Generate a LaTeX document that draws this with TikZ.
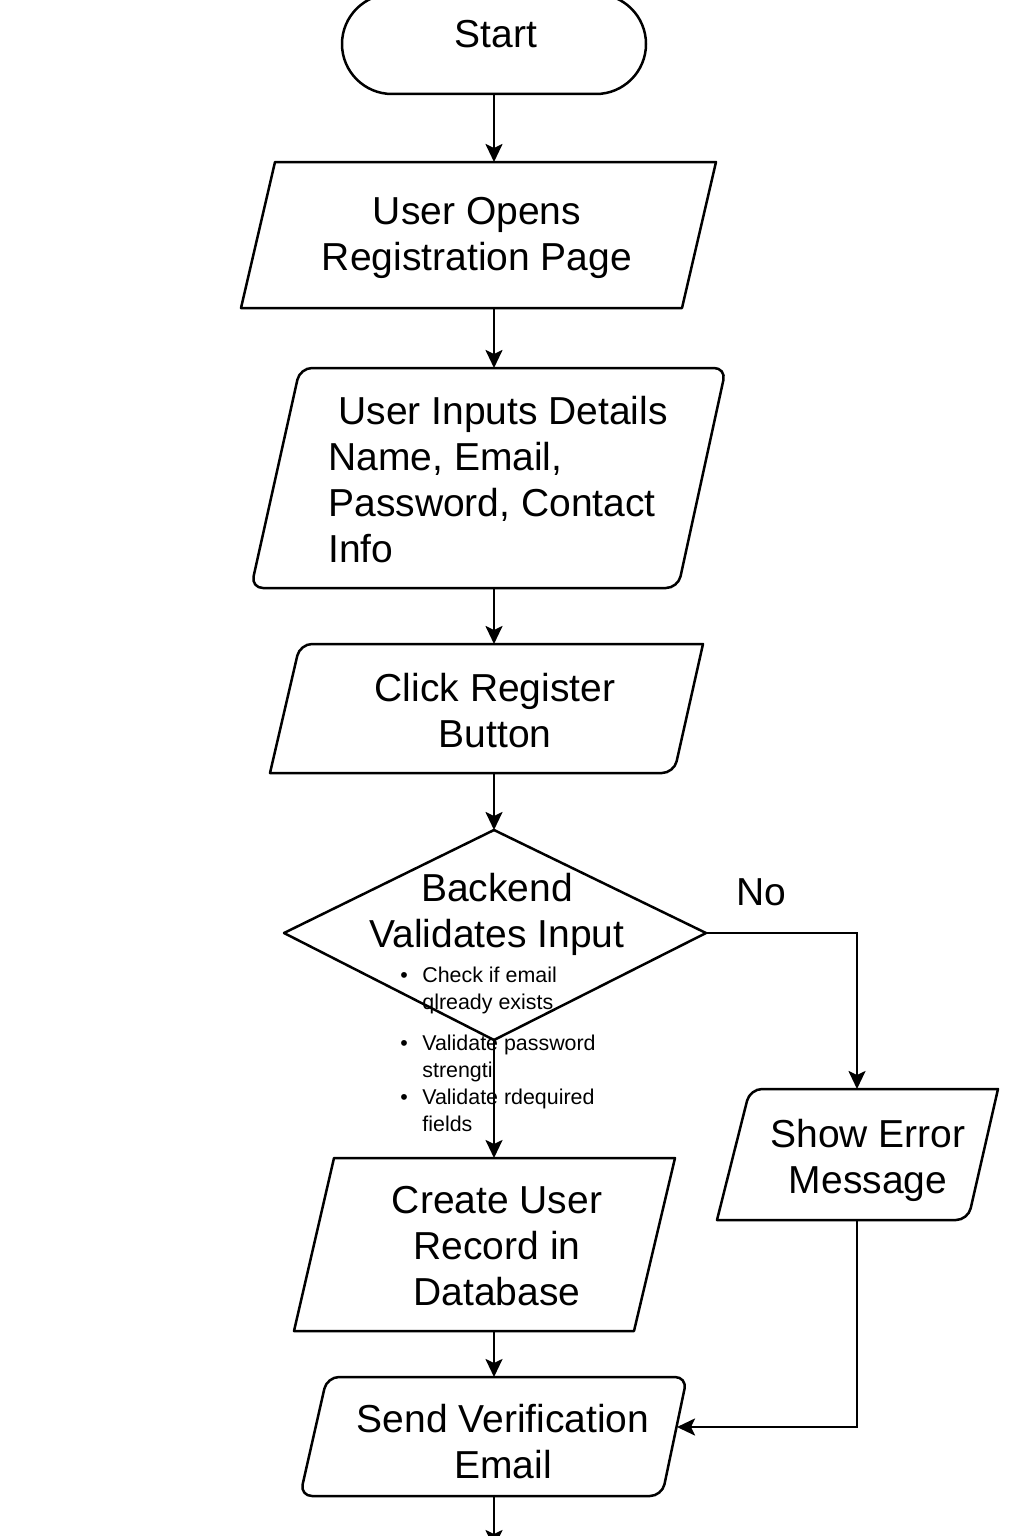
\documentclass[tikz,border=0pt]{standalone}
\usepackage{fontspec}
\setmainfont{Liberation Sans}
\usetikzlibrary{arrows.meta}
\begin{document}
\begin{tikzpicture}[x=0.5pt,y=-0.5pt,
  shp/.style={line width=1.25pt, line join=round},
  arr/.style={line width=1.25pt,-{Stealth[length=9pt,width=8.5pt,inset=2pt]}},
  lbl/.style={font=\fontsize{19.5}{23}\selectfont, inner sep=0pt, align=center},
  small/.style={font=\fontsize{10.7}{13.5}\selectfont, inner sep=0pt, align=left}]
\useasboundingbox (0,0) rectangle (1024,1536);

% shapes
\draw[shp, rounded corners=25pt] (342,-6) rectangle (646,94);
\draw[shp] (275,162) -- (716,162) -- (682,308) -- (241,308) -- cycle;
\draw[shp, rounded corners=6pt] (300,368) -- (726,368) -- (678,588) -- (251,588) -- cycle;
\draw[shp] (270,773) [rounded corners=6pt] -- (300,644) [sharp corners] -- (703,644) [rounded corners=6pt] -- (674,773) [sharp corners] -- cycle;
\draw[shp] (494,830) -- (706,933) -- (494,1040) -- (284,933) -- cycle;
\draw[shp] (717,1220) [rounded corners=6pt] -- (750,1089) [sharp corners] -- (998,1089) [rounded corners=6pt] -- (968,1220) [sharp corners] -- cycle;
\draw[shp] (334,1158) -- (675,1158) -- (634,1331) -- (294,1331) -- cycle;
\draw[shp, rounded corners=6pt] (327,1377) -- (687,1377) -- (662,1496) -- (300,1496) -- cycle;

% texts
\node[lbl] (start) at (496,34) {Start};
\node[lbl] (open) at (477,238) {User Opens\\Registration Page};
\node[lbl, align=left, anchor=west] (inputs) at (328,480) {\hspace*{5pt}User Inputs Details\\Name, Email,\\Password, Contact\\Info};
\node[lbl] (click) at (495,711) {Click Register\\Button};
\node[lbl] (backend) at (497,914) {Backend\\Validates Input};
\node[small, anchor=west] (checks) at (400,1049) {\makebox[11pt][l]{\textbullet}Check if email\\\hspace*{11pt}qlready exists\\[7pt]\makebox[11pt][l]{\textbullet}Validate password\\\hspace*{11pt}strengti\\\makebox[11pt][l]{\textbullet}Validate rdequired\\\hspace*{11pt}fields};
\node[lbl] (no) at (761,892) {No};
\node[lbl] (error) at (868,1160) {Show Error\\Message};
\node[lbl] (create) at (497,1246) {Create User\\Record in\\Database};
\node[lbl] (send) at (503,1442) {Send Verification\\Email};

% connection points
\coordinate (startB) at (494,94);
\coordinate (openT) at (494,162);
\coordinate (openB) at (494,308);
\coordinate (inT) at (494,368);
\coordinate (inB) at (494,588);
\coordinate (clT) at (494,644);
\coordinate (clB) at (494,773);
\coordinate (dT) at (494,830);
\coordinate (dB) at (494,1040);
\coordinate (dR) at (706,933);
\coordinate (erT) at (857,1089);
\coordinate (erB) at (857,1220);
\coordinate (crT) at (494,1158);
\coordinate (crB) at (494,1331);
\coordinate (seT) at (494,1377);
\coordinate (seR) at (677,1427);
\coordinate (seB) at (494,1496);
\coordinate (next) at (494,1548);

% connectors
\draw[arr] (startB) -- (openT);
\draw[arr] (openB) -- (inT);
\draw[arr] (inB) -- (clT);
\draw[arr] (clB) -- (dT);
\draw[arr] (dB) -- (crT);
\draw[arr] (dR) -| (erT);
\draw[arr] (crB) -- (seT);
\draw[arr] (erB) |- (seR);
\draw[arr] (seB) -- (next);
\end{tikzpicture}
\end{document}
